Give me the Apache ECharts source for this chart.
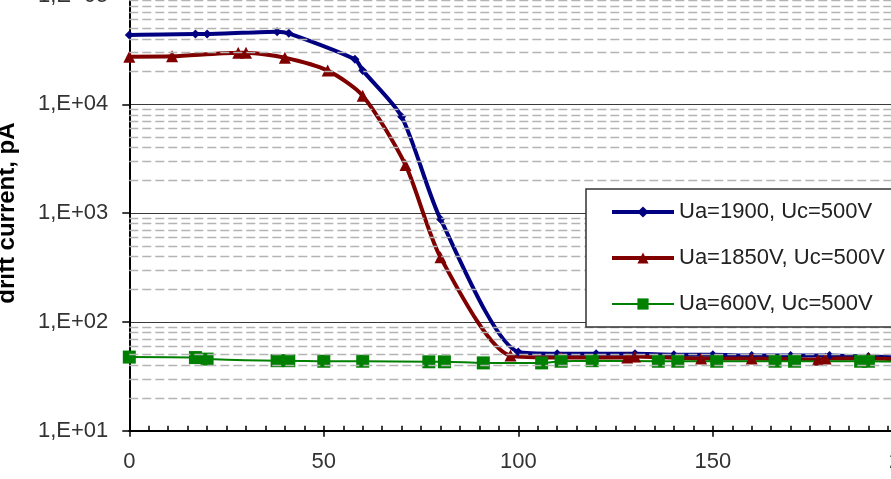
<!DOCTYPE html>
<html>
<head>
<meta charset="utf-8">
<script src="https://cdn.jsdelivr.net/npm/echarts@6/dist/echarts.min.js"></script>
<style>
  html, body { margin: 0; padding: 0; background: #fff; }
</style>
</head>
<body>
<div id="drift_chart" style="width:891px;height:479px;"></div>
<script>
// series: Ua=1900, Uc=500V
const xBlue = [0, 17, 20, 38, 41, 58, 60, 70, 80, 100, 110, 120, 130, 140, 150, 160, 170, 180, 190, 200];
const yBlue = [43400, 44300, 44300, 46500, 44900, 25900, 20500, 7700, 880, 53, 51, 51, 51, 50, 50, 49, 49, 49, 48, 47];

// series: Ua=1850V, Uc=500V
const xRed = [0, 11, 28, 30, 40, 51, 60, 71, 80, 98, 111, 128, 130, 147, 160, 177, 179, 190, 200];
const yRed = [27400, 27600, 29800, 29800, 26800, 20400, 12000, 2770, 392, 49, 47, 47, 48, 46, 46, 45, 46, 46, 45];

// series: Ua=600V, Uc=500V
const xGreen = [0, 17, 20, 38, 41, 50, 60, 77, 81, 91, 106, 111, 119, 136, 141, 151, 166, 171, 188, 190, 200];
const yGreen = [47.5, 47, 45.5, 44, 44, 43.5, 43.5, 43, 43, 42, 42, 43.5, 44, 43.5, 43.5, 43.5, 43.5, 43.5, 43.5, 43.5, 43];

const seriesNames = ['Ua=1900, Uc=500V', 'Ua=1850V, Uc=500V', 'Ua=600V, Uc=500V'];
const seriesColors = ['#000080', '#800000', '#008000'];

// dashed minor grid lines at 2..9 of every decade
const decades = [10, 100, 1000, 10000];
const minorSteps = [2, 3, 4, 5, 6, 7, 8, 9];
const minorGrid = [];
decades.forEach(d => minorSteps.forEach(k => minorGrid.push(d * k)));

const font = 'Liberation Sans, Arial, sans-serif';

function pairs(xs, ys) {
    return xs.map((x, i) => [x, ys[i]]);
}

const option = {
    backgroundColor: '#fff',
    animation: false,
    grid: {
        left: 129.3,
        right: -16.3,
        top: -4.5,
        bottom: 48.3,
        containLabel: false,
        outerBoundsMode: 'none'
    },
    legend: {
        data: seriesNames,
        orient: 'vertical',
        left: 586,
        top: 189,
        z: 10,
        backgroundColor: '#fff',
        borderColor: '#333',
        borderWidth: 1.5,
        padding: [12, 40, 12, 24],
        itemWidth: 62,
        itemHeight: 14,
        itemGap: 24,
        lineStyle: {width: 'inherit'},
        textStyle: {
            fontFamily: font,
            fontSize: 22,
            color: '#222'
        }
    },
    xAxis: [
        {
            type: 'value',
            min: 0,
            max: 200,
            interval: 50,
            axisLine: {lineStyle: {color: '#000', width: 2}},
            axisTick: {inside: true, length: 5, lineStyle: {color: '#000', width: 1.5}},
            minorTick: {show: true, splitNumber: 10, length: 5, lineStyle: {color: '#000', width: 1.5}},
            splitLine: {show: false},
            axisLabel: {
                margin: 20,
                fontFamily: font,
                fontSize: 22,
                color: '#333'
            }
        },
        {
            // outer half of the major ticks
            type: 'value',
            position: 'bottom',
            min: 0,
            max: 200,
            interval: 50,
            axisLine: {show: false},
            axisTick: {inside: false, length: 6, lineStyle: {color: '#000', width: 1.5}},
            axisLabel: {show: false},
            splitLine: {show: false}
        }
    ],
    yAxis: {
        type: 'log',
        logBase: 10,
        min: 10,
        max: 100000,
        name: 'drift current, pA',
        nameLocation: 'middle',
        nameGap: 110,
        nameTextStyle: {
            fontFamily: font,
            fontSize: 24,
            fontWeight: 'bold',
            color: '#000'
        },
        axisLine: {show: true, lineStyle: {color: '#000', width: 2}},
        axisTick: {show: true, inside: false, length: 7, lineStyle: {color: '#000', width: 1.5}},
        splitLine: {show: true, lineStyle: {color: '#3a3a3a', width: 1.2}},
        axisLabel: {
            margin: 21,
            fontFamily: font,
            fontSize: 22,
            color: '#333',
            formatter: function (v) {
                const p = Math.round(Math.log10(v));
                return '1,E+' + String(p).padStart(2, '0');
            }
        }
    },
    series: [
        {
            name: 'minor grid',
            type: 'line',
            data: [],
            z: 1,
            silent: true,
            markLine: {
                silent: true,
                symbol: ['none', 'none'],
                label: {show: false},
                lineStyle: {type: [9, 4], color: '#b4b4b4', width: 1.3},
                data: minorGrid.map(v => ({yAxis: v}))
            }
        },
        {
            name: seriesNames[0],
            type: 'line',
            z: 3,
            smooth: 0.25,
            data: pairs(xBlue, yBlue),
            symbol: 'diamond',
            symbolSize: 9,
            color: seriesColors[0],
            lineStyle: {width: 4, color: seriesColors[0], type: 'solid'},
            itemStyle: {color: seriesColors[0]}
        },
        {
            name: seriesNames[1],
            type: 'line',
            z: 3,
            smooth: 0.25,
            data: pairs(xRed, yRed),
            symbol: 'triangle',
            symbolSize: 12,
            color: seriesColors[1],
            lineStyle: {width: 4, color: seriesColors[1], type: 'solid'},
            itemStyle: {color: seriesColors[1]}
        },
        {
            name: seriesNames[2],
            type: 'line',
            z: 3,
            smooth: 0.25,
            data: pairs(xGreen, yGreen),
            symbol: 'rect',
            symbolSize: 13,
            color: seriesColors[2],
            lineStyle: {width: 2, color: seriesColors[2], type: 'solid'},
            itemStyle: {color: seriesColors[2]}
        }
    ]
};

const driftChart = echarts.init(document.getElementById('drift_chart'));
driftChart.setOption(option);

window.addEventListener('resize', function () {
    driftChart.resize();
});
</script>
</body>
</html>
